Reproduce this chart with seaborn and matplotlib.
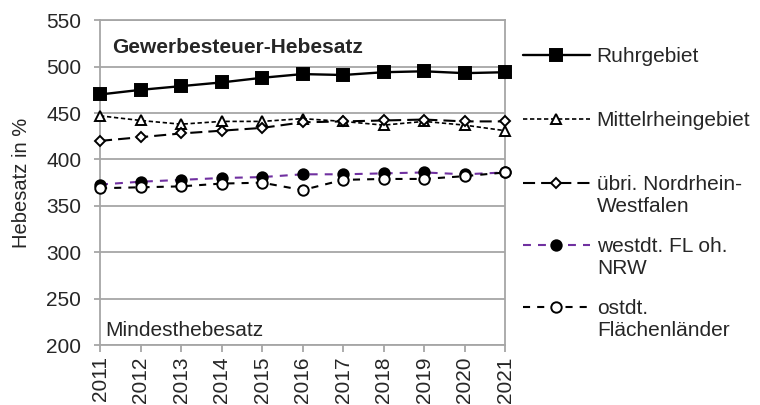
import pandas as pd
import numpy as np
import matplotlib.pyplot as plt
import seaborn as sns

# =========================
# DATEN
# =========================
jahre = [2011, 2012, 2013, 2014, 2015, 2016, 2017, 2018, 2019, 2020, 2021]

ruhrgebiet      = [470, 475, 479, 483, 488, 492, 491, 494, 495, 493, 494]
mittelrhein     = [447, 442, 438, 441, 441, 444, 441, 437, 441, 437, 431]
uebri_nrw       = [420, 424, 428, 431, 434, 440, 441, 442, 443, 441, 441]
westdt_fl       = [373, 376, 378, 380, 381, 384, 384, 385, 386, 384, 386]
ostdt_fl        = [369, 370, 371, 374, 375, 367, 378, 379, 379, 382, 386]

namen = ["Ruhrgebiet", "Mittelrheingebiet", "übri. Nordrhein-\nWestfalen",
         "westdt. FL oh.\nNRW", "ostdt.\nFlächenländer"]

df = pd.DataFrame({
    "Jahr": jahre * 5,
    "Hebesatz": ruhrgebiet + mittelrhein + uebri_nrw + westdt_fl + ostdt_fl,
    "Gruppe": np.repeat(namen, len(jahre)),
})

# =========================
# STIL
# =========================
sns.set_style("white")
plt.rcParams["font.family"] = ["Liberation Sans", "DejaVu Sans"]

stile = {
    namen[0]: dict(color="black", ls="-", marker="s", mfc="black", ms=8, lw=1.7),
    namen[1]: dict(color="black", ls=(0, (2.6, 1.6)), marker="^", mfc="white", ms=6.5, lw=1.2),
    namen[2]: dict(color="black", ls=(0, (5.8, 2.9)), marker="D", mfc="white", ms=5.5, lw=1.5),
    namen[3]: dict(color="#7030a0", ls=(0, (3.8, 3.4)), marker="o", mfc="black", ms=7.5, lw=1.5),
    namen[4]: dict(color="black", ls=(0, (3.4, 3.4)), marker="o", mfc="white", ms=7.5, lw=1.5),
}

fig = plt.figure(figsize=(7.6, 4.05), dpi=100)
ax = fig.add_axes([0.1316, 0.148, 0.533, 0.802])

for name in namen:
    s = stile[name]
    sub = df[df["Gruppe"] == name]
    sns.lineplot(
        data=sub, x="Jahr", y="Hebesatz", ax=ax,
        color=s["color"], linestyle=s["ls"], linewidth=s["lw"],
        marker=s["marker"], markersize=s["ms"],
        markerfacecolor=s["mfc"], markeredgecolor="black",
        markeredgewidth=1.4, label=name, zorder=3, clip_on=False,
    )

grau = "#a6a6a6"
ax.set_xlim(2011, 2021)
ax.set_ylim(200, 550)
ax.set_xticks(jahre)
ax.set_xticklabels([str(j) for j in jahre], rotation=90)
ax.set_yticks(range(200, 551, 50))
ax.yaxis.grid(True, color=grau, linewidth=1.3, zorder=0)
for sp in ax.spines.values():
    sp.set_color(grau)
    sp.set_linewidth(1.3)
ax.tick_params(axis="both", direction="out", color=grau, width=1.3,
               labelsize=15, bottom=True, left=True)
ax.tick_params(axis="y", length=4.5, pad=9)
ax.tick_params(axis="x", length=5, pad=3)
ax.set_xlabel("")
ax.set_ylabel("Hebesatz in %", fontsize=14.5, labelpad=11)

ax.text(2011.3, 521, "Gewerbesteuer-Hebesatz", fontsize=15, fontweight="bold", va="center")
ax.text(2011.12, 216, "Mindesthebesatz", fontsize=15, va="center")

# Legende: ein Eintrag pro Gruppe, Symbol auf Höhe der ersten Textzeile
handles, labels = ax.get_legend_handles_labels()
if ax.legend_:
    ax.legend_.remove()
zeilen_y = [57, 121, 185, 247, 309]
for h, lab, y in zip(handles, labels, zeilen_y):
    teile = lab.split("\n")
    fig.legend([h], [teile[0]], loc="center left",
               bbox_to_anchor=(523 / 760, 1 - y / 405), frameon=False,
               handlelength=3.2, handletextpad=0.34, fontsize=15,
               borderpad=0, borderaxespad=0)
    if len(teile) > 1:
        fig.text(597 / 760, 1 - (y + 22) / 405, teile[1], fontsize=15, va="center")

plt.savefig("out.png", dpi=100)
